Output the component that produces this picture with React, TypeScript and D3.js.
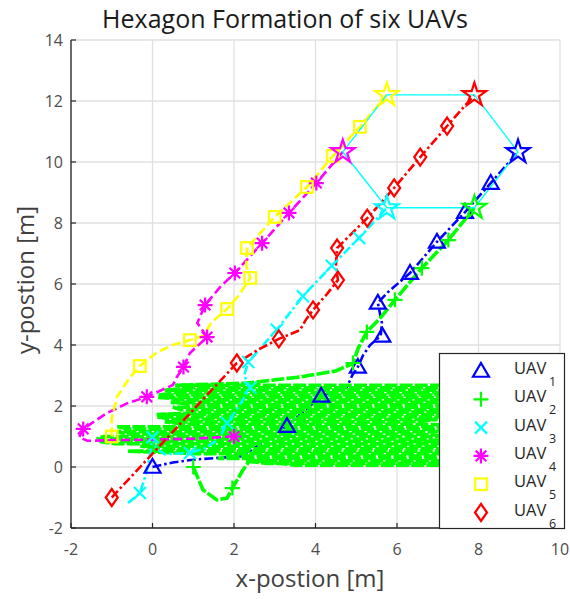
import React from 'react';
import * as d3 from 'd3';

const W = 570;
const H = 599;

const xTicks = [-2, 0, 2, 4, 6, 8, 10];
const yTicks = [-2, 0, 2, 4, 6, 8, 10, 12, 14];

const colors = ['#0000ff', '#00ff00', '#00ffff', '#ff00ff', '#ffff00', '#ff0000'];
const legendNames = ['1', '2', '3', '4', '5', '6'];
const markerTypes = ['triangle', 'plus', 'x', 'asterisk', 'square', 'diamond'];

const uav1Path = [[0, 0], [0.5, 0.15], [1.0, 0.24], [1.6, 0.3], [2.2, 0.35], [3.3, 1.34], [4.14, 2.33], [4.77, 2.62], [4.9, 3.0], [5.04, 3.28], [5.17, 3.67], [5.34, 4.0], [5.6, 4.3], [5.63, 4.72], [5.53, 5.38], [5.75, 5.7], [6.32, 6.36], [6.98, 7.38], [7.67, 8.36], [8.3, 9.31], [8.97, 10.33]];
const uav1Marks = [[0, 0], [3.3, 1.34], [4.14, 2.33], [5.04, 3.28], [5.64, 4.3], [5.53, 5.38], [6.32, 6.36], [6.98, 7.38], [7.67, 8.36], [8.3, 9.31]];

const uav2Start = [[1, 0], [1.24, -0.75], [1.58, -1.08], [1.83, -1.02], [1.96, -0.69], [2.22, -0.1], [2.39, 0.23]];
// horizontal oscillation band of UAV 2: row y, left end, right end
const greenRowY = [2.68, 2.6, 2.52, 2.44, 2.36, 2.28, 2.2, 2.12, 2.04, 1.96, 1.88, 1.8, 1.72, 1.64, 1.56, 1.48, 1.4, 1.32, 1.24, 1.16, 1.08, 1.0, 0.92, 0.84, 0.76, 0.68, 0.6, 0.52, 0.44, 0.36, 0.28, 0.2, 0.12, 0.06];
const greenRowLeft = [0.55, 1.0, 0.3, 0.6, 0.15, 0.14, 0.9, 0.45, 1.2, 0.5, 0.7, 1.6, 0.1, 0.12, 0.5, 0.3, 0.8, -0.88, -0.5, -0.88, -0.6, -1.2, -1.37, -1.3, -0.9, -0.3, 0.4, -0.6, 1.0, 2.0, 1.6, 2.3, 2.8, 3.5];
const greenRowRight = [8, 8, 8, 8, 8, 8, 8, 8, 8, 8, 8, 8, 8, 8, 7.0, 6.3, 6.8, 7.8, 7.4, 6.9, 6.5, 7.6, 5.9, 8, 8, 8, 8, 8, 8, 8, 8, 8, 8, 8];
const uav2End = [[2.3, 2.75], [3.62, 2.95], [4.5, 3.15], [4.92, 3.4], [5.05, 3.9], [5.26, 4.43], [5.6, 4.9], [5.95, 5.48], [6.61, 6.52], [7.26, 7.44], [7.9, 8.5]];
const uav2Marks = [[1, 0], [1.96, -0.69], [4.92, 3.41], [5.26, 4.43], [5.95, 5.48], [6.61, 6.52], [7.26, 7.44]];

const uav3Path = [[-0.6, -1.18], [-0.31, -0.85], [-0.15, -0.2], [-0.05, 0.5], [0.0, 0.98], [0.1, 0.6], [0.3, 0.42], [0.92, 0.46], [1.3, 0.62], [1.55, 0.85], [1.7, 1.1], [1.83, 1.44], [2.1, 1.95], [2.4, 2.6], [2.25, 3.0], [2.35, 3.44], [3.05, 4.5], [3.69, 5.6], [4.4, 6.6], [5.07, 7.51], [5.75, 8.49]];
const uav3Marks = [[-0.31, -0.85], [0.0, 0.98], [0.92, 0.46], [1.83, 1.44], [2.4, 2.6], [2.35, 3.44], [3.05, 4.5], [3.69, 5.6], [4.4, 6.6], [5.07, 7.51]];

const uav4Path = [[2, 1], [1.0, 0.93], [0, 0.9], [-1.0, 0.88], [-1.6, 0.86], [-1.8, 0.98], [-1.7, 1.25], [-1.12, 1.77], [-0.6, 2.1], [-0.14, 2.3], [0.5, 2.69], [0.6, 2.95], [0.76, 3.28], [0.92, 3.74], [1.34, 4.26], [1.1, 4.72], [1.29, 5.31], [1.66, 5.9], [2.02, 6.36], [2.69, 7.34], [3.35, 8.33], [4.02, 9.31], [4.67, 10.33]];
const uav4Marks = [[2, 1], [-1.7, 1.25], [-0.14, 2.3], [0.76, 3.28], [1.34, 4.26], [1.29, 5.31], [2.02, 6.36], [2.69, 7.34], [3.35, 8.33], [4.02, 9.31]];

const uav5Path = [[-1, 1], [-1.0, 1.6], [-0.87, 2.3], [-0.55, 2.95], [-0.31, 3.31], [0.1, 3.75], [0.5, 4.0], [0.92, 4.16], [1.25, 4.3], [1.45, 4.75], [1.83, 5.18], [2.1, 5.6], [2.4, 6.2], [2.3, 6.6], [2.32, 7.18], [3.0, 8.2], [3.79, 9.18], [4.43, 10.2], [5.09, 11.15], [5.75, 12.2]];
const uav5Marks = [[-1, 1], [-0.31, 3.31], [0.92, 4.16], [1.83, 5.18], [2.4, 6.2], [2.32, 7.18], [3.0, 8.2], [3.79, 9.18], [4.43, 10.2], [5.09, 11.15]];

const uav6Path = [[-1, -1], [2.07, 3.41], [2.6, 3.85], [3.1, 4.2], [3.62, 4.49], [3.75, 4.8], [3.94, 5.15], [4.3, 5.7], [4.55, 6.13], [4.5, 6.6], [4.53, 7.18], [5.27, 8.16], [5.93, 9.15], [6.57, 10.16], [7.23, 11.18], [7.9, 12.2]];
const uav6Marks = [[-1, -1], [2.07, 3.41], [3.1, 4.2], [3.94, 5.15], [4.55, 6.13], [4.53, 7.18], [5.27, 8.16], [5.93, 9.15], [6.57, 10.16], [7.23, 11.18]];

const finalPos = [[8.97, 10.33], [7.9, 8.5], [5.75, 8.49], [4.67, 10.33], [5.75, 12.2], [7.9, 12.2]];
const hexagon = [[5.75, 12.2], [7.9, 12.2], [8.97, 10.33], [7.9, 8.5], [5.75, 8.5], [4.67, 10.33], [5.75, 12.2]];

const x = d3.scaleLinear().domain([-2, 10]).range([71, 560]);
const y = d3.scaleLinear().domain([-2, 14]).range([528, 40]);
const line = d3.line<number[]>().x(d => x(d[0])).y(d => y(d[1]));

function buildGreen(): number[][] {
  const pts: number[][] = [...uav2Start];
  const n = greenRowY.length;
  for (let k = 0; k < n; k++) {
    const i = n - 1 - k;
    if (k % 2 === 0) {
      pts.push([greenRowLeft[i], greenRowY[i]]);
      pts.push([greenRowRight[i], greenRowY[i]]);
    } else {
      pts.push([greenRowRight[i], greenRowY[i]]);
      pts.push([greenRowLeft[i], greenRowY[i]]);
    }
  }
  return pts.concat(uav2End);
}

function Marker({ type, cx, cy, color }: { type: string; cx: number; cy: number; color: string }) {
  const sw = 2.2;
  const common = { fill: 'none', stroke: color, strokeWidth: sw };
  if (type === 'triangle') {
    const s = 8;
    return <path d={`M${cx},${cy - s}L${cx + s},${cy + s * 0.72}L${cx - s},${cy + s * 0.72}Z`} {...common} strokeLinejoin="miter" />;
  }
  if (type === 'plus') {
    const s = 7.5;
    return <path d={`M${cx - s},${cy}L${cx + s},${cy}M${cx},${cy - s}L${cx},${cy + s}`} {...common} />;
  }
  if (type === 'x') {
    const s = 6;
    return <path d={`M${cx - s},${cy - s}L${cx + s},${cy + s}M${cx - s},${cy + s}L${cx + s},${cy - s}`} {...common} />;
  }
  if (type === 'asterisk') {
    const s = 7.5;
    const t = 5.3;
    return <path d={`M${cx - s},${cy}L${cx + s},${cy}M${cx},${cy - s}L${cx},${cy + s}M${cx - t},${cy - t}L${cx + t},${cy + t}M${cx - t},${cy + t}L${cx + t},${cy - t}`} {...common} />;
  }
  if (type === 'square') {
    const s = 5.8;
    return <rect x={cx - s} y={cy - s} width={2 * s} height={2 * s} {...common} />;
  }
  if (type === 'diamond') {
    const w = 6, h = 8.5;
    return <path d={`M${cx},${cy - h}L${cx + w},${cy}L${cx},${cy + h}L${cx - w},${cy}Z`} {...common} />;
  }
  return null;
}

export default function App() {
  const paths = [uav1Path, buildGreen(), uav3Path, uav4Path, uav5Path, uav6Path];
  const marks = [uav1Marks, uav2Marks, uav3Marks, uav4Marks, uav5Marks, uav6Marks];
  const dashes = ['9,3,2.5,3', '13,2.2', '9,3,2.5,3', '9,4', '9,4', '9,3,2.5,3'];
  const star = d3.symbol().type(d3.symbolStar).size(170)();
  const font = "'Open Sans', 'Noto Sans', sans-serif";
  const tickColor = '#4d4d4d';

  return (
    <svg width={W} height={H} style={{ position: 'absolute', left: 0, top: 0, background: '#fff' }} fontFamily={font}>
      <rect x={0} y={0} width={W} height={H} fill="#fff" />
      {/* grid */}
      {xTicks.map(t => (
        <line key={'gx' + t} x1={x(t)} x2={x(t)} y1={y(-2)} y2={y(14)} stroke="#e0e0e0" strokeWidth={1.3} />
      ))}
      {yTicks.map(t => (
        <line key={'gy' + t} y1={y(t)} y2={y(t)} x1={x(-2)} x2={x(10)} stroke="#e0e0e0" strokeWidth={1.3} />
      ))}
      {/* trajectories */}
      {paths.map((p, i) => (
        <path key={'p' + i} d={line(p) || ''} fill="none" stroke={colors[i]} strokeWidth={i === 1 ? 3.6 : 2.6} strokeDasharray={dashes[i]} />
      ))}
      {/* hexagon */}
      <path d={line(hexagon) || ''} fill="none" stroke="#00ffff" strokeWidth={1.4} />
      {/* markers */}
      {marks.map((m, i) => m.map((d, j) => (
        <Marker key={'m' + i + '-' + j} type={markerTypes[i]} cx={x(d[0])} cy={y(d[1])} color={colors[i]} />
      )))}
      {finalPos.map((d, i) => (
        <path key={'s' + i} d={star || ''} transform={`translate(${x(d[0])},${y(d[1])})`} fill="none" stroke={colors[i]} strokeWidth={2.2} />
      ))}
      {/* axes */}
      <line x1={x(-2)} x2={x(-2)} y1={y(-2)} y2={y(14)} stroke="#262626" strokeWidth={1.3} />
      <line x1={x(-2)} x2={x(10)} y1={y(-2)} y2={y(-2)} stroke="#262626" strokeWidth={1.3} />
      {xTicks.map(t => (
        <g key={'tx' + t}>
          <line x1={x(t)} x2={x(t)} y1={y(-2)} y2={y(-2) - 5} stroke="#262626" strokeWidth={1.2} />
          <text x={x(t)} y={555} textAnchor="middle" fontSize={16} fill={tickColor}>{t}</text>
        </g>
      ))}
      {yTicks.map(t => (
        <g key={'ty' + t}>
          <line x1={x(-2)} x2={x(-2) + 5} y1={y(t)} y2={y(t)} stroke="#262626" strokeWidth={1.2} />
          <text x={63} y={y(t) + 5.5} textAnchor="end" fontSize={16} fill={tickColor}>{t}</text>
        </g>
      ))}
      {/* labels */}
      <text x={285} y={28} textAnchor="middle" fontSize={25} fill="#1a1a1a">Hexagon Formation of six UAVs</text>
      <text x={310} y={587} textAnchor="middle" fontSize={24} fill="#404040">x-postion [m]</text>
      <text transform={`translate(34,${280}) rotate(-90)`} textAnchor="middle" fontSize={24} fill="#404040">y-postion [m]</text>
      {/* legend */}
      <rect x={439.5} y={353.5} width={125} height={175} fill="#fff" stroke="#262626" strokeWidth={1.2} />
      {legendNames.map((n, i) => {
        const ly = 371 + i * 28.3;
        return (
          <g key={'l' + i}>
            <Marker type={markerTypes[i]} cx={481} cy={ly} color={colors[i]} />
            <text x={514} y={ly + 3} fontSize={16.5} fill="#262626">UAV</text>
            <text x={549} y={ly + 15} fontSize={12.5} fill="#262626">{n}</text>
          </g>
        );
      })}
    </svg>
  );
}
